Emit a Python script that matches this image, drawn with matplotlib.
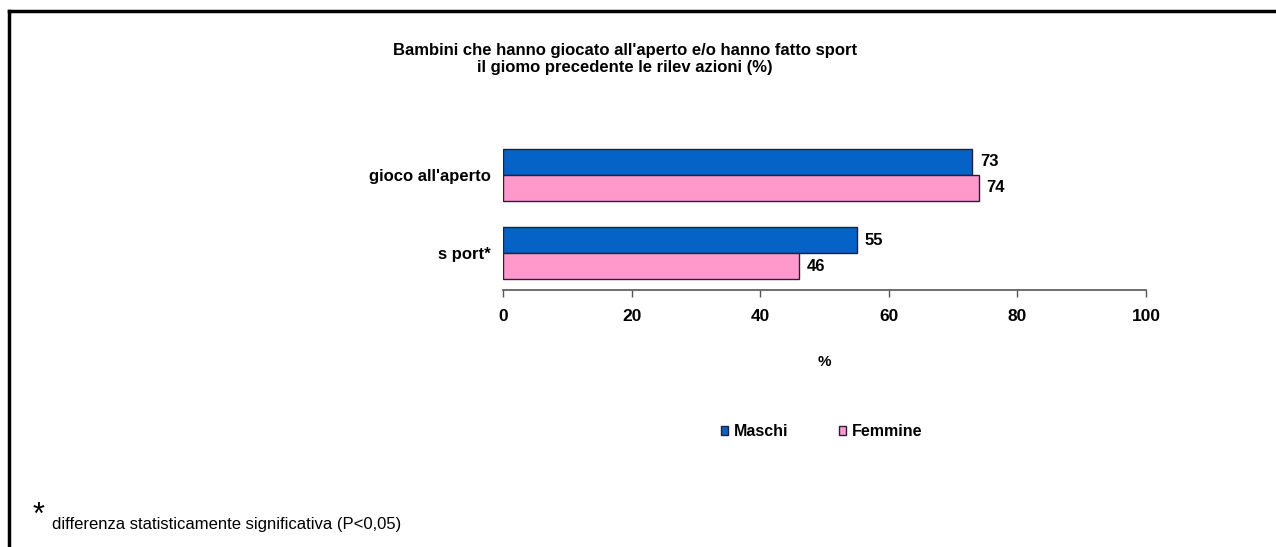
import numpy as np
import matplotlib.pyplot as plt
from matplotlib.lines import Line2D
from matplotlib.patches import Patch

plt.rcParams['font.family'] = ['Liberation Sans', 'DejaVu Sans']

categories = ["gioco all'aperto", "s port*"]
maschi = [73, 55]
femmine = [74, 46]
series_names = ["Maschi", "Femmine"]
blue = "#0563C8"
pink = "#FF99CC"
edge = "#202040"

fig = plt.figure(figsize=(12.76, 5.47), dpi=100)
ax = fig.add_axes([503 / 1276, 1 - 290 / 547, 643 / 1276, 152 / 547])

y = np.array([1, 0])
h = 1 / 3
ax.barh(y + h / 2, maschi, height=h, color=blue, edgecolor=edge, linewidth=1)
ax.barh(y - h / 2, femmine, height=h, color=pink, edgecolor=edge, linewidth=1)

for yi, m, f in zip(y, maschi, femmine):
    ax.text(m + 1.2, yi + h / 2, str(m), va='center', ha='left',
            fontsize=12, fontweight='bold')
    ax.text(f + 1.2, yi - h / 2, str(f), va='center', ha='left',
            fontsize=12, fontweight='bold')

ax.set_xlim(0, 100)
ax.set_ylim(-0.474, 1.474)
ax.set_xticks(range(0, 101, 20))
ax.set_yticks(y)
ax.set_yticklabels(categories, fontsize=12, fontweight='bold')
ax.tick_params(axis='y', length=0, pad=9)
ax.tick_params(axis='x', length=5, width=1, color='#555555', labelsize=12.5, pad=9)
for lbl in ax.get_xticklabels():
    lbl.set_fontweight('bold')
for s in ['top', 'right', 'left']:
    ax.spines[s].set_visible(False)
ax.spines['bottom'].set_color('#555555')
ax.spines['bottom'].set_linewidth(1.2)
ax.set_xlabel('%', fontsize=11, fontweight='bold', labelpad=22)

fig.text(0.49, 1 - 59 / 547,
         "Bambini che hanno giocato all'aperto e/o hanno fatto sport\n"
         "il giomo precedente le rilev azioni (%)",
         ha='center', va='center', fontsize=12, fontweight='bold', linespacing=1.2)

handles = [Patch(facecolor=blue, edgecolor=edge), Patch(facecolor=pink, edgecolor=edge)]
fig.legend(handles, series_names, loc='center', bbox_to_anchor=(0.644, 1 - 432 / 547),
           ncol=2, frameon=False, handlelength=0.45, handleheight=0.5,
           handletextpad=0.35, columnspacing=3.2, prop={'weight': 'bold', 'size': 11.5})

fig.text(33 / 1276, 1 - 516 / 547, "*", fontsize=22, ha='left', va='center')
fig.text(52 / 1276, 1 - 524 / 547, "differenza statisticamente significativa (P<0,05)",
         fontsize=12, ha='left', va='center')

# cornice
fig.add_artist(Line2D([9 / 1276, 9 / 1276], [0, 1 - 11 / 547], color='black', lw=2.5,
                      transform=fig.transFigure))
fig.add_artist(Line2D([9 / 1276, 1], [1 - 11 / 547, 1 - 11 / 547], color='black', lw=2.5,
                      transform=fig.transFigure))

fig.savefig("out.png", dpi=100)
